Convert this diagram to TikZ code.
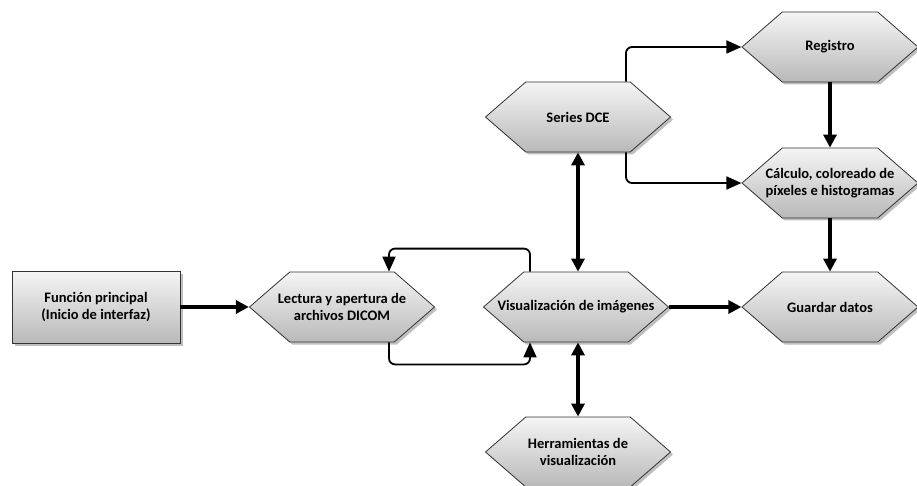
\documentclass[tikz,border=0pt]{standalone}
\usepackage{fontspec}
\setmainfont{Carlito}
\usetikzlibrary{arrows.meta,shapes.symbols,shadows}
\tikzset{
  hextext/.style={align=center, inner sep=0pt, font=\fontsize{14.5}{17.5}\selectfont\bfseries},
  hexbox/.style={signal, signal to=east and west, signal pointer angle=82,
    draw=black!80, line width=0.8pt, top color=gray!8, bottom color=gray!55,
    drop shadow={shadow xshift=2.5pt, shadow yshift=-2.5pt, opacity=0.5},
    minimum width=185pt, minimum height=70pt, inner sep=0pt},
  mainbox/.style={rectangle, draw=black!80, line width=0.8pt, top color=gray!8, bottom color=gray!55,
    drop shadow={shadow xshift=2.5pt, shadow yshift=-2.5pt, opacity=0.5},
    minimum width=168pt, minimum height=72pt, inner sep=0pt,
    align=center, font=\fontsize{14.5}{17.5}\selectfont\bfseries},
  fatarrow/.style={line width=3.2pt, -{Triangle[length=13pt,width=13pt]}},
  fatboth/.style={line width=3.2pt, {Triangle[length=13pt,width=13pt]}-{Triangle[length=13pt,width=13pt]}},
  slimarrow/.style={line width=1.8pt, rounded corners=6pt, -{Triangle[length=15pt,width=13pt]}}
}
\begin{document}
\begin{tikzpicture}[x=1pt,y=-1pt]
  \useasboundingbox (0,0) rectangle (917,486);

  \node[mainbox] (fp) at (96,307) {Función principal\\(Inicio de interfaz)};
  \node[hexbox, label={[hextext]center:Lectura y apertura de\\archivos DICOM}] (lec) at (342,307) {};
  \node[hexbox, label={[hextext]center:Visualización de imágenes}] (vis) at (576,307) {};
  \node[hexbox, label={[hextext]center:Series DCE}] (sdce) at (578,117) {};
  \node[hexbox, label={[hextext]center:Herramientas de\\visualización}] (herr) at (578,452) {};
  \node[hexbox, minimum width=176pt, label={[hextext]center:Registro}] (reg) at (830,47) {};
  \node[hexbox, minimum width=176pt, label={[hextext]center:Cálculo, coloreado de\\píxeles e histogramas}] (calc) at (830,183) {};
  \node[hexbox, minimum width=176pt, label={[hextext]center:Guardar datos}] (gd) at (830,307) {};

  \draw[fatarrow] (fp.east) -- (lec.west);
  \draw[fatarrow] (vis.east) -- (gd.west);
  \draw[fatarrow] (reg.south) -- (calc.north);
  \draw[fatarrow] (calc.south) -- (gd.north);
  \draw[fatboth] (sdce.south) -- (sdce.south |- vis.north);
  \draw[fatboth] (vis.south -| herr.north) -- (herr.north);

  \draw[slimarrow] ([xshift=48pt]sdce.north) |- (reg.west);
  \draw[slimarrow] ([xshift=48pt]sdce.south) |- (calc.west);
  \draw[slimarrow] ([xshift=-46pt]vis.north) -- ++(0,-23) -| ([xshift=47pt]lec.north);
  \draw[slimarrow] ([xshift=47pt]lec.south) -- ++(0,22) -| ([xshift=-46pt]vis.south);

\end{tikzpicture}
\end{document}
